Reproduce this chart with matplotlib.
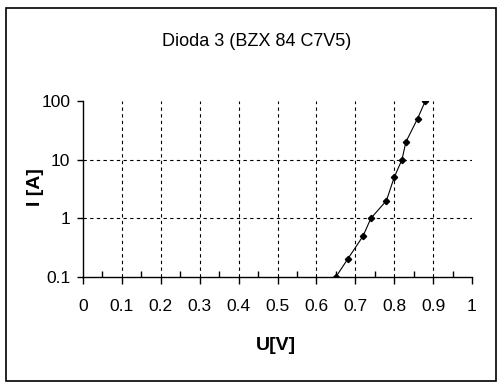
import matplotlib
matplotlib.use("Agg")
import matplotlib.pyplot as plt
from matplotlib.ticker import FixedLocator, NullFormatter, NullLocator
from matplotlib.patches import Rectangle

title = "Dioda 3 (BZX 84 C7V5)"
x_label = "U[V]"
y_label = "I [A]"
U = [0.65, 0.68, 0.72, 0.74, 0.78, 0.80, 0.82, 0.83, 0.86, 0.88]
I = [0.1, 0.2, 0.5, 1, 2, 5, 10, 20, 50, 100]
x_ticks = [0, 0.1, 0.2, 0.3, 0.4, 0.5, 0.6, 0.7, 0.8, 0.9, 1]
x_tick_labels = ["0", "0.1", "0.2", "0.3", "0.4", "0.5", "0.6", "0.7", "0.8", "0.9", "1"]
y_ticks = [0.1, 1, 10, 100]
y_tick_labels = ["0.1", "1", "10", "100"]

plt.rcParams['font.family'] = ['Liberation Sans', 'DejaVu Sans']

fig = plt.figure(figsize=(5.03, 3.88), dpi=100)
fig.patches.append(Rectangle((6/503, 1-381/388), 490/503, 373/388, transform=fig.transFigure,
                             fill=False, edgecolor='black', linewidth=1.2))
ax = fig.add_axes([83/503, 1-277/388, 389/503, 176/388])
ax.set_yscale('log')
ax.set_xlim(0, 1)
ax.set_ylim(0.1, 100)

ax.plot(U, I, color='black', linewidth=0.8, marker='D', markersize=3.2, zorder=3)

for s in ['top', 'right']:
    ax.spines[s].set_visible(False)
for s in ['left', 'bottom']:
    ax.spines[s].set_linewidth(1.0)

ax.set_xticks(x_ticks)
ax.set_xticklabels(x_tick_labels, fontsize=12.5)
ax.xaxis.set_minor_locator(FixedLocator([0.05 + 0.1*i for i in range(10)]))
ax.tick_params(axis='x', which='major', direction='out', length=5, width=1, pad=11)
ax.tick_params(axis='x', which='minor', direction='in', length=4, width=1)

ax.set_yticks(y_ticks)
ax.set_yticklabels(y_tick_labels, fontsize=12.5)
ax.yaxis.set_minor_locator(NullLocator())
ax.yaxis.set_minor_formatter(NullFormatter())
ax.tick_params(axis='y', which='major', direction='out', length=4, width=1, pad=5)

for xv in x_ticks[1:-1]:
    ax.axvline(xv, color='black', linestyle=(0, (3, 3)), linewidth=0.8, zorder=1)
for yv in y_ticks[1:-1]:
    ax.axhline(yv, color='black', linestyle=(0, (3, 3)), linewidth=0.8, zorder=1)

fig.text(257/503, 1-41/388, title, ha='center', va='center', fontsize=13)
fig.text(276/503, 1-345/388, x_label, ha='center', va='center', fontsize=14, fontweight='bold')
fig.text(35/503, 1-187/388, y_label, ha='center', va='center', fontsize=14, fontweight='bold', rotation=90)

fig.savefig("out.png", dpi=100)
